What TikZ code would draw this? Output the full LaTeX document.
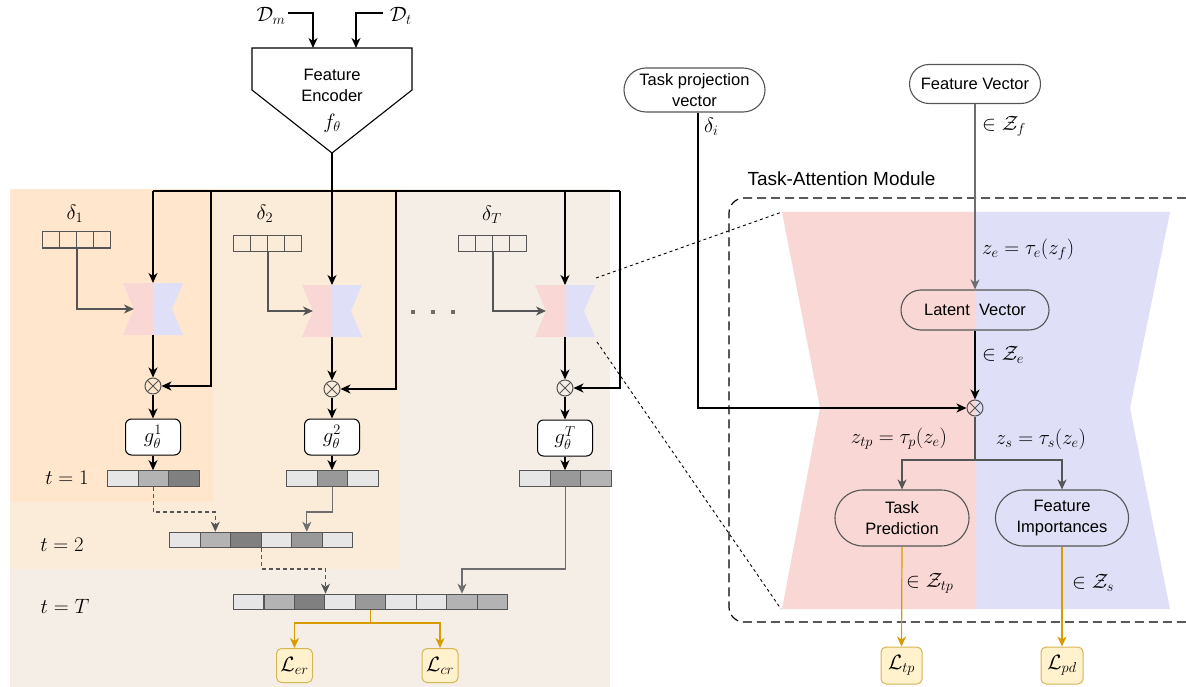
\documentclass[tikz,border=0pt]{standalone}
\usepackage{fontspec}
\usepackage{amsmath}
\newfontfamily\arialf{Liberation Sans}
\usetikzlibrary{arrows.meta,calc,shapes.misc}
\definecolor{regA}{HTML}{FFE6CC}
\definecolor{regB}{HTML}{FBEBD9}
\definecolor{regC}{HTML}{F5EEE6}
\definecolor{pinkA}{HTML}{F8D7D4}
\definecolor{blueA}{HTML}{DFDFF7}
\definecolor{cl}{HTML}{E6E6E6}
\definecolor{cm}{HTML}{B3B3B3}
\definecolor{cd}{HTML}{808080}
\definecolor{cn}{HTML}{999999}
\definecolor{ora}{HTML}{D79B00}
\definecolor{lfill}{HTML}{FFF2CC}
\definecolor{ldraw}{HTML}{D6B656}
\definecolor{gline}{HTML}{555555}
\definecolor{gl2}{HTML}{6E6E6E}
\begin{document}
\begin{tikzpicture}[x=1pt,y=-1pt,
  txt/.style={font=\fontsize{16.5}{21}\selectfont\arialf, align=center},
  mth/.style={font=\fontsize{20}{24}\selectfont, inner sep=0pt},
  cell/.style={draw=gline, line width=1.1pt, minimum width=30.5pt, minimum height=15.5pt, inner sep=0pt, anchor=west},
  dcell/.style={draw=gline, line width=1pt, minimum width=17pt, minimum height=16pt, inner sep=0pt, anchor=west},
  gbox/.style={draw=black, fill=white, line width=1pt, rounded corners=6pt, minimum width=55pt, minimum height=36pt, inner sep=0pt, font=\fontsize{20}{24}\selectfont},
  lbox/.style={draw=ldraw, fill=lfill, line width=1pt, rounded corners=5pt, minimum width=36pt, minimum height=34pt, inner sep=0pt, font=\fontsize{20}{24}\selectfont},
  pill/.style={shape=rounded rectangle, draw=gline, line width=1.1pt, txt, inner sep=2pt},
  otimes/.style={circle, draw=gline, line width=1pt, minimum size=16pt, inner sep=0pt,
    path picture={\draw[gline, line width=0.9pt] (path picture bounding box.north west) -- (path picture bounding box.south east) (path picture bounding box.north east) -- (path picture bounding box.south west);}},
  arr/.style={-{Stealth[length=10pt,width=9pt,inset=3pt]}, line width=1.3pt, draw=black},
  garr/.style={-{Stealth[length=10pt,width=9pt,inset=3pt]}, line width=1.2pt, draw=gline},
  oarr/.style={-{Stealth[length=10pt,width=9pt,inset=3pt]}, line width=1.2pt, draw=ora},
]
\useasboundingbox (0,0) rectangle (1186,687);

% ---------- left panel backgrounds
\fill[regC] (10,189) rectangle (610,687);
\fill[regB] (10,189) rectangle (400,569);
\fill[regA] (10,189) rectangle (214,502);

% ---------- small hourglasses
\foreach \cx/\ty/\nm in {153/283/1, 332/285/2, 565/285/T}{
  \fill[pinkA] (\cx-30,\ty) -- (\cx,\ty) -- (\cx,\ty+52) -- (\cx-30,\ty+52) -- (\cx-19,\ty+26) -- cycle;
  \fill[blueA] (\cx,\ty) -- (\cx+30,\ty) -- (\cx+19,\ty+26) -- (\cx+30,\ty+52) -- (\cx,\ty+52) -- cycle;
  \coordinate (hg\nm t) at (\cx,\ty);
  \coordinate (hg\nm b) at (\cx,\ty+52);
  \coordinate (hg\nm l) at (\cx-19,\ty+26);
}
\coordinate (hgTu) at (596,278);
\coordinate (hgTd) at (597,342);

% ---------- big hourglass
\fill[pinkA] (782,212) -- (975,212) -- (975,609) -- (782,609) -- (820,408) -- cycle;
\fill[blueA] (975,212) -- (1170,212) -- (1130,408) -- (1170,609) -- (975,609) -- cycle;
\coordinate (bigU) at (782,212);
\coordinate (bigD) at (781,609);
\draw[black, line width=0.9pt, dash pattern=on 3pt off 3pt] (hgTu) -- (bigU);
\draw[black, line width=0.9pt, dash pattern=on 3pt off 3pt] (hgTd) -- (bigD);

% ---------- module box
\draw[line width=1.2pt, dash pattern=on 9pt off 5pt, rounded corners=15pt] (1186,198) -- (729,198) -- (729,622) -- (1186,622);
\node[txt, font=\fontsize{19}{22}\selectfont\arialf, anchor=west] (tam) at (744,179) {Task-Attention Module};

% ---------- encoder
\draw[line width=1.1pt, fill=white] (252,48) -- (412,48) -- (412,90) -- (332,153) -- (252,90) -- cycle;
\node[txt] (enc) at (332,85) {Feature\\Encoder};
\node[mth] (ftheta) at (332,123) {$f_\theta$};
\coordinate (encTip) at (332,153);
\coordinate (encInA) at (313,48);
\coordinate (encInB) at (356,48);
\node[mth] (Dm) at (271,16) {$\mathcal{D}_m$};
\node[mth] (Dt) at (401,16) {$\mathcal{D}_t$};
\coordinate (DmS) at (288,13);
\coordinate (DtS) at (383,13);
\draw[arr] (DmS) -| (encInA);
\draw[arr] (DtS) -| (encInB);

% ---------- bus
\coordinate (busC) at (332,191);
\coordinate (busL) at (153,191);
\coordinate (busR) at (620,191);
\coordinate (bus1) at (211,191);
\coordinate (bus2) at (396,191);
\coordinate (bus3) at (565,191);
\draw[line width=1.3pt] (encTip) -- (busC);
\draw[line width=1.3pt] (busL) -- (busR);

% ---------- delta vectors
\node[mth] (dl1) at (75,214) {$\delta_1$};
\node[mth] (dl2) at (265,214) {$\delta_2$};
\node[mth] (dlT) at (492,215) {$\delta_T$};
\foreach \i in {1,...,4}{
  \node[dcell] (da\i) at ({42+(\i-1)*17},240) {};
  \node[dcell] (db\i) at ({233+(\i-1)*17},243.5) {};
  \node[dcell] (dc\i) at ({458+(\i-1)*17},243.5) {};
}
\draw[garr] (da2.south east) |- (hg1l);
\draw[garr] (db2.south east) |- (hg2l);
\draw[garr] (dc2.south east) |- (hgTl);
\foreach \x in {413,433,453} \fill[gl2] (\x-2.2,310) rectangle (\x+2.2,314.4);

% ---------- otimes and g boxes
\node[otimes] (ox1) at (153,386) {};
\node[otimes] (ox2) at (332,389) {};
\node[otimes] (oxT) at (565,388) {};
\node[gbox] (g1) at (153,437) {$g_\theta^1$};
\node[gbox] (g2) at (332,437) {$g_\theta^2$};
\node[gbox] (gT) at (565,438) {$g_\theta^T$};

\draw[arr] (busL) -- (hg1t);
\draw[arr] (busC) -- (hg2t);
\draw[arr] (bus3) -- (hgTt);
\draw[arr] (bus1) |- (ox1.east);
\draw[arr] (bus2) |- (ox2.east);
\draw[arr] (busR) |- (oxT.east);
\draw[arr] (hg1b) -- (ox1.north);
\draw[arr] (hg2b) -- (ox2.north);
\draw[arr] (hgTb) -- (oxT.north);
\draw[arr] (ox1.south) -- (g1.north);
\draw[arr] (ox2.south) -- (g2.north);
\draw[arr] (oxT.south) -- (gT.north);

% ---------- output vectors
\node[mth] (t1) at (67,478) {$t=1$};
\node[mth] (t2) at (62,545) {$t=2$};
\node[mth] (tT) at (65,606) {$t=T$};
\foreach \c [count=\i] in {cl,cm,cd}
  \node[cell, fill=\c] (va\i) at ({107+(\i-1)*30.5},478.5) {};
\foreach \c [count=\i] in {cl,cn,cl}
  \node[cell, fill=\c] (vb\i) at ({286+(\i-1)*30.5},478.5) {};
\foreach \c [count=\i] in {cl,cn,cm}
  \node[cell, fill=\c] (vc\i) at ({519+(\i-1)*30.5},478.5) {};
\foreach \c [count=\i] in {cl,cm,cd,cl,cn,cl}
  \node[cell, fill=\c] (w\i) at ({169+(\i-1)*30.5},540) {};
\foreach \c [count=\i] in {cl,cm,cd,cl,cn,cl,cl,cm,cm}
  \node[cell, fill=\c] (u\i) at ({233+(\i-1)*30.45},602) {};

\draw[arr] (g1.south) -- (g1.south |- va2.north);
\draw[arr] (g2.south) -- (g2.south |- vb2.north);
\draw[arr] (gT.south) -- (gT.south |- vc2.north);

\draw[garr, dash pattern=on 4pt off 3pt] (va2.south) -- (va2.south |- 0,512) -| (w2.north);
\draw[garr, draw=gl2] (vb2.south) -- (vb2.south |- 0,512) -| (w5.north);
\draw[garr, dash pattern=on 4pt off 3pt] (w3.south east) -- (w3.south east |- 0,569) -| (u3.north east);
\draw[garr, draw=gl2] (vc2.south) -- (vc2.south |- 0,569) -| (u8.north);

% ---------- losses left
\node[lbox] (Ler) at (294.5,665.5) {$\mathcal{L}_{er}$};
\node[lbox] (Lcr) at (440,665.5) {$\mathcal{L}_{cr}$};
\coordinate (ojn) at (u5.south |- 0,623);
\draw[ora, line width=1.2pt] (u5.south) -- (ojn);
\draw[oarr] (ojn) -| (Ler.north);
\draw[oarr] (ojn) -| (Lcr.north);

% ---------- right side
\node[pill, fill=white, minimum width=145pt, minimum height=44pt] (TPV) at (694.5,90) {Task projection\\vector};
\node[pill, fill=white, minimum width=135pt, minimum height=39pt] (FV) at (975,84) {Feature Vector};
\node[pill, minimum width=152pt, minimum height=40pt] (LV) at (975,310) {Latent\ \ Vector};
\node[pill, minimum width=138pt, minimum height=56pt] (TP) at (902,518) {Task\\Prediction};
\node[pill, minimum width=137pt, minimum height=56pt] (FI) at (1062,518) {Feature\\Importances};
\node[otimes] (oxM) at (975,408) {};

\node[mth, anchor=west] (ldi) at (704,127) {$\delta_i$};
\node[mth, anchor=west] (lzf) at (982,126) {$\in \mathcal{Z}_f$};
\node[mth, anchor=west] (lze) at (982,250) {$z_e = \tau_e(z_f)$};
\node[mth, anchor=west] (lZe) at (982,355) {$\in \mathcal{Z}_e$};
\node[mth] (lztp) at (899,439) {$z_{tp} = \tau_p(z_e)$};
\node[mth] (lzs) at (1041,439) {$z_s = \tau_s(z_e)$};
\node[mth, anchor=west] (lZtp) at (906,583) {$\in \mathcal{Z}_{tp}$};
\node[mth, anchor=west] (lZs) at (1072,583) {$\in \mathcal{Z}_s$};

\coordinate (tpvOut) at ([xshift=3.5pt]TPV.south);
\draw[arr] (tpvOut) |- (oxM.west);
\draw[garr, draw=gl2] (FV.south) -- (LV.north);
\draw[arr] (LV.south) -- (oxM.north);
\coordinate (mjn) at (oxM.south |- 0,460);
\draw[gline, line width=1.2pt] (oxM.south) -- (mjn);
\draw[garr] (mjn) -| (TP.north);
\draw[garr] (mjn) -| (FI.north);

\node[lbox, minimum width=41pt, minimum height=37pt] (Ltp) at (901.5,665.5) {$\mathcal{L}_{tp}$};
\node[lbox, minimum width=42pt, minimum height=37pt] (Lpd) at (1062,665.5) {$\mathcal{L}_{pd}$};
\draw[oarr] (TP.south) -- (Ltp.north);
\draw[oarr] (FI.south) -- (Lpd.north);
\end{tikzpicture}
\end{document}
